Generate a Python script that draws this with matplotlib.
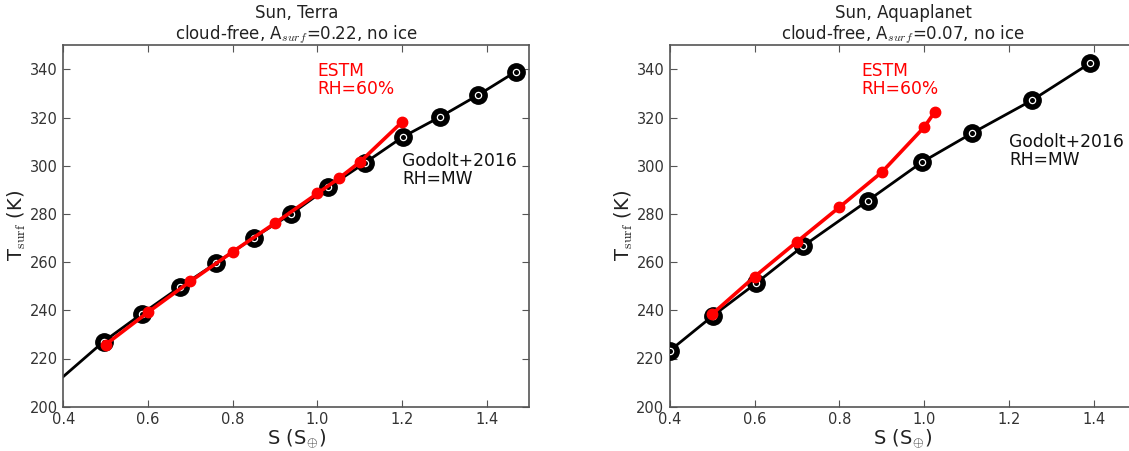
import matplotlib
matplotlib.use("Agg")
import matplotlib.pyplot as plt

plt.rcParams['mathtext.fontset'] = 'cm'
plt.rcParams['font.family'] = ['DejaVu Sans']

# Left panel: Sun, Terra
terra_godolt_x = [0.495, 0.585, 0.675, 0.761, 0.849, 0.938, 1.026, 1.113, 1.201, 1.290, 1.379, 1.468]
terra_godolt_y = [227.0, 238.5, 249.6, 259.6, 270.1, 280.0, 291.1, 301.3, 311.9, 320.3, 329.3, 339.0]
terra_godolt_line_start = (0.40, 212.5)
terra_estm_x = [0.50, 0.60, 0.70, 0.80, 0.90, 1.00, 1.05, 1.10, 1.20]
terra_estm_y = [225.8, 239.2, 252.0, 264.3, 276.2, 288.5, 294.7, 301.5, 318.2]

# Right panel: Sun, Aquaplanet
aqua_godolt_x = [0.40, 0.501, 0.603, 0.713, 0.867, 0.995, 1.112, 1.254, 1.392]
aqua_godolt_y = [223.3, 237.7, 251.2, 266.5, 285.5, 301.5, 313.4, 327.1, 342.6]
aqua_estm_x = [0.50, 0.60, 0.70, 0.80, 0.90, 1.00, 1.025]
aqua_estm_y = [238.5, 254.0, 268.5, 282.8, 297.3, 316.0, 322.3]

titles = ["Sun, Terra\ncloud-free, A$_{surf}$=0.22, no ice",
          "Sun, Aquaplanet\ncloud-free, A$_{surf}$=0.07, no ice"]
xticks = [0.4, 0.6, 0.8, 1.0, 1.2, 1.4]
yticks = [200, 220, 240, 260, 280, 300, 320, 340]

W, H = 1129, 451
fig = plt.figure(figsize=(W / 100, H / 100), dpi=100)
axw, axh = 466, 361.5
bottom = (H - 406.7) / H
ax1 = fig.add_axes([63.3 / W, bottom, axw / W, axh / H])
ax2 = fig.add_axes([670 / W, bottom, axw / W, axh / H])


def godolt(ax, x, y, line_x=None, line_y=None):
    lx = x if line_x is None else line_x
    ly = y if line_y is None else line_y
    ax.plot(lx, ly, color='black', lw=2.0, zorder=2)
    ax.plot(x, y, ls='none', marker='o', ms=12.5, mfc='black', mec='black', zorder=3)
    ax.plot(x, y, ls='none', marker='o', ms=4.5, mfc='black', mec='white', mew=0.9, zorder=4)


def estm(ax, x, y):
    ax.plot(x, y, color='red', lw=2.6, marker='o', ms=7.5, mfc='red', mec='red', zorder=5)


ann_size = 12.3
godolt(ax1, terra_godolt_x, terra_godolt_y,
       [terra_godolt_line_start[0]] + terra_godolt_x,
       [terra_godolt_line_start[1]] + terra_godolt_y)
estm(ax1, terra_estm_x, terra_estm_y)
ax1.text(1.0, 343, "ESTM\nRH=60%", color='red', fontsize=ann_size, va='top', ha='left', linespacing=1.0)
ax1.text(1.2, 305.5, "Godolt+2016\nRH=MW", color='#111111', fontsize=ann_size, va='top', ha='left', linespacing=1.0)

godolt(ax2, aqua_godolt_x, aqua_godolt_y)
estm(ax2, aqua_estm_x, aqua_estm_y)
ax2.text(0.852, 343, "ESTM\nRH=60%", color='red', fontsize=ann_size, va='top', ha='left', linespacing=1.0)
ax2.text(1.2, 313.5, "Godolt+2016\nRH=MW", color='#111111', fontsize=ann_size, va='top', ha='left', linespacing=1.0)

for ax, t in zip([ax1, ax2], titles):
    ax.set_xlim(0.4, 1.5)
    ax.set_ylim(200, 350)
    ax.set_xticks(xticks)
    ax.set_yticks(yticks)
    ax.set_xticklabels([f"{v:.1f}" for v in xticks])
    ax.tick_params(direction='in', top=True, right=True, length=5, width=0.8,
                   labelsize=10.5, labelcolor='#333333', color='#555555', pad=4)
    for s in ax.spines.values():
        s.set_color('#555555')
        s.set_linewidth(1.2)
    ax.set_title(t, fontsize=12, color='#222222', pad=4, linespacing=1.1)
    ax.set_xlabel(r"S (S$_{\oplus}$)", fontsize=14, color='#222222', labelpad=0)
    ax.set_ylabel(r"T$_{\rm surf}$ (K)", fontsize=14, color='#222222', labelpad=1)

fig.savefig("out.png", dpi=100)
